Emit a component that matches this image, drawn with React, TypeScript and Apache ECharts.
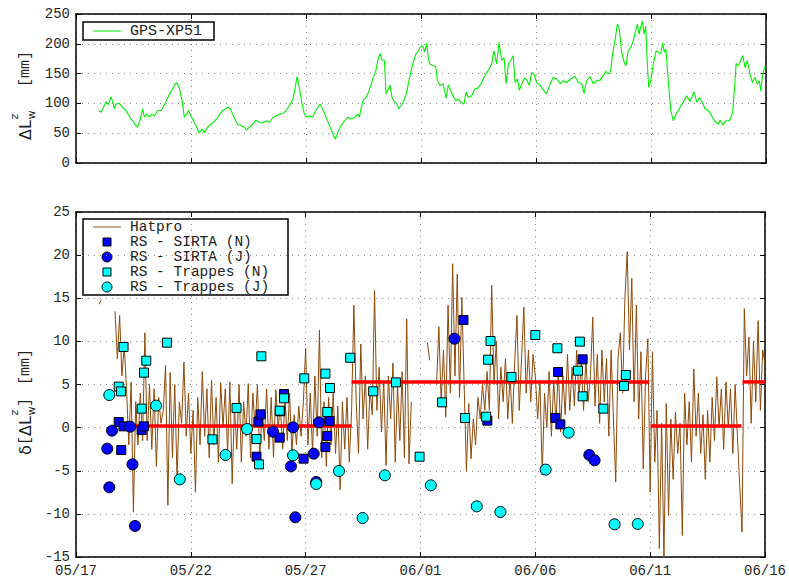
import React, { useEffect, useRef } from 'react';
import * as echarts from 'echarts';

// x positions are days since 05/17
const dateTicks = ['05/17', '05/22', '05/27', '06/01', '06/06', '06/11', '06/16'];

// GPS-XP51 (top panel)
const gpsDays = [
  0.99, 1.09, 1.23, 1.30, 1.41, 1.52, 1.62, 1.67, 1.74, 1.88, 2.03, 2.17, 2.32, 2.39, 2.49, 2.58, 2.68, 2.78, 2.90, 2.97,
  3.07, 3.19, 3.30, 3.41, 3.55, 3.70, 3.80, 3.91, 4.03, 4.16, 4.28, 4.38, 4.49, 4.61, 4.71, 4.81, 4.90, 5.00, 5.14, 5.25,
  5.36, 5.48, 5.58, 5.72, 5.87, 6.01, 6.16, 6.26, 6.38, 6.52, 6.62, 6.70, 6.81, 6.93, 7.03, 7.17, 7.32, 7.42, 7.54, 7.68,
  7.83, 7.97, 8.12, 8.26, 8.41, 8.55, 8.70, 8.84, 8.99, 9.13, 9.28, 9.42, 9.52, 9.61, 9.71, 9.83, 9.93, 10.03, 10.14, 10.29,
  10.43, 10.61, 10.75, 10.90, 11.04, 11.16, 11.28, 11.38, 11.52, 11.67, 11.81, 11.96, 12.10, 12.25, 12.32, 12.39, 12.49, 12.61, 12.72, 12.83,
  12.93, 13.04, 13.12, 13.22, 13.30, 13.41, 13.48, 13.58, 13.65, 13.74, 13.84, 13.94, 14.03, 14.13, 14.28, 14.38, 14.49, 14.64, 14.78, 14.90,
  14.96, 15.07, 15.17, 15.25, 15.32, 15.39, 15.54, 15.64, 15.71, 15.83, 15.97, 16.09, 16.19, 16.29, 16.41, 16.51, 16.62, 16.71, 16.87, 16.96,
  17.06, 17.20, 17.35, 17.49, 17.64, 17.74, 17.86, 17.97, 18.07, 18.17, 18.29, 18.39, 18.51, 18.61, 18.70, 18.80, 18.90, 19.01, 19.09, 19.19,
  19.28, 19.38, 19.52, 19.62, 19.71, 19.81, 19.91, 20.03, 20.17, 20.35, 20.46, 20.61, 20.75, 20.90, 21.04, 21.19, 21.33, 21.51, 21.70, 21.84,
  21.99, 22.09, 22.20, 22.35, 22.49, 22.64, 22.78, 22.93, 23.04, 23.14, 23.25, 23.33, 23.43, 23.54, 23.62, 23.72, 23.83, 23.91, 24.01, 24.12,
  24.23, 24.33, 24.41, 24.48, 24.55, 24.62, 24.70, 24.77, 24.84, 24.90, 24.99, 25.10, 25.22, 25.32, 25.42, 25.51, 25.58, 25.65, 25.75, 25.86,
  25.97, 26.09, 26.23, 26.41, 26.55, 26.70, 26.87, 26.99, 27.10, 27.25, 27.35, 27.49, 27.64, 27.78, 27.93, 28.00, 28.12, 28.26, 28.41, 28.55,
  28.65, 28.70, 28.80, 28.90, 28.99, 29.09, 29.19, 29.30, 29.41, 29.52, 29.62, 29.71, 29.77, 29.86, 29.96,
];
const gpsValues = [
  88, 85, 96, 103, 98, 111, 100, 91, 99, 100, 93, 88, 78, 74, 70, 64, 60, 71, 91, 77,
  82, 77, 82, 79, 88, 88, 94, 103, 113, 121, 131, 135, 126, 105, 77, 82, 88, 79, 68, 60,
  50, 57, 51, 60, 65, 70, 76, 82, 88, 91, 94, 91, 82, 72, 65, 63, 60, 55, 60, 65,
  72, 68, 67, 71, 68, 76, 79, 82, 83, 88, 96, 106, 124, 145, 127, 99, 82, 77, 79, 77,
  88, 99, 88, 74, 61, 50, 40, 51, 63, 70, 77, 74, 76, 82, 77, 91, 106, 110, 119, 132,
  144, 155, 172, 184, 173, 172, 116, 124, 131, 110, 103, 100, 91, 96, 107, 119, 141, 166, 183, 188,
  194, 197, 186, 201, 175, 166, 163, 162, 138, 130, 133, 109, 131, 121, 111, 105, 107, 103, 99, 119,
  110, 113, 124, 126, 135, 144, 152, 158, 166, 188, 166, 202, 172, 177, 133, 166, 172, 180, 135, 141,
  122, 133, 143, 138, 130, 152, 149, 135, 131, 121, 116, 132, 144, 141, 133, 138, 135, 141, 145, 135,
  133, 117, 138, 145, 133, 138, 139, 147, 154, 149, 155, 183, 205, 233, 225, 188, 169, 163, 188, 194,
  205, 222, 233, 216, 228, 238, 216, 230, 166, 127, 138, 166, 188, 186, 183, 201, 186, 191, 138, 88,
  71, 82, 91, 103, 113, 103, 119, 102, 110, 100, 91, 88, 79, 70, 65, 72, 64, 71, 71, 85,
  135, 167, 163, 172, 180, 160, 172, 150, 135, 144, 132, 138, 121, 149, 162,
];

// Hatpro (bottom panel), one value every 0.1 day from day 1.0; null = no data
const hatproStart = 1.0;
const hatproStep = 0.1;
const hatproValues: (number | null)[] = [
  14.3, 14.8, null, null, null, null, null, 13.5, 8.0, 13.0,
  6.0, 9.5, 4.5, -2.0, 5.3, -9.8, 3.0, -2.0, 4.0, -1.5,
  11.0, -1.5, 5.0, -2.5, 4.5, -4.5, 3.5, 0.5, 2.0, 7.2,
  -9.0, 6.4, -3.5, 5.0, -6.0, 3.0, 0.5, 7.6, -1.0, 4.0,
  -3.0, 2.0, -7.5, 3.5, -2.0, 6.5, -1.0, 4.5, -3.5, 5.5,
  -2.0, 3.5, -4.0, 5.2, 0.0, 4.5, -3.0, 5.3, -6.5, 2.5,
  -2.5, 5.0, -4.0, 3.0, -1.0, 5.1, -3.5, 4.0, 0.0, 5.0,
  -3.7, 2.0, -1.5, 4.5, -2.5, 3.5, -3.4, 4.4, 0.0, 2.5,
  -2.5, 3.5, -1.5, 4.0, -3.0, 1.5, -2.0, 2.5, -1.0, 3.0,
  9.2, -2.0, 4.0, -3.0, 6.0, -1.0, 11.3, -3.5, 3.0, -4.5,
  3.5, -2.0, 4.0, -3.0, 2.5, -7.2, 3.0, -2.5, 3.5, -4.0,
  2.0, 14.2, 3.0, -3.0, 9.7, 1.0, 6.0, -2.5, 4.5, 1.5,
  15.9, 2.0, 7.0, -0.5, 5.5, -4.4, 6.0, 1.0, 7.5, -4.0,
  5.0, -1.5, 6.5, -3.5, 12.6, -4.2, 3.0, null, null, null,
  null, null, null, 9.9, 7.8, null, null, 5.0, 11.7, 3.0,
  9.0, 1.2, 14.2, 4.0, 19.0, 6.0, 17.8, 3.5, 15.1, 5.0,
  -5.0, 2.8, -3.6, 1.0, -2.0, 3.5, 1.0, 5.0, 2.0, 6.5,
  2.0, 16.5, 5.0, 10.0, 1.0, 7.0, 3.0, 8.0, 1.0, 6.0,
  0.5, 7.5, 13.0, 2.0, 8.0, 14.0, 4.0, 9.0, 3.0, 8.5,
  6.0, 1.0, 5.5, -5.5, 4.0, 0.0, 6.5, -1.0, 5.5, 0.5,
  7.0, -0.5, 6.0, 1.5, 8.5, 2.0, 7.0, 2.5, 9.0, 3.5,
  7.5, 2.0, 8.0, 3.0, 6.0, 12.8, 2.5, 8.5, 0.5, 9.0,
  3.0, 8.0, -1.0, 9.0, 1.0, -6.3, 8.0, 11.0, 4.0, 15.0,
  20.4, 9.0, 17.3, 3.0, 14.2, 1.0, 8.8, -4.8, 6.0, 10.3,
  -7.5, 8.8, -4.0, 2.0, -14.0, 0.5, -15.2, 2.8, -10.2, 1.0,
  -6.0, 1.8, -3.0, 0.5, -12.5, 4.0, -2.0, 3.0, -4.0, 6.8,
  -1.0, 4.0, -3.0, 1.5, -6.0, 2.0, -4.0, 3.5, -1.5, 5.9,
  0.0, 4.5, -2.5, 5.3, 0.0, 4.5, -3.0, 5.0, -1.0, -6.7,
  -12.1, 13.8, 6.0, 10.5, 0.5, 10.0, 3.0, 12.4, 2.0, 9.0,
  7.5,
];

// Radiosonde points [day, value]
const sirtaN = [
  [1.86, 0.65], [1.97, -2.6], [2.07, 0.15], [2.86, -0.28], [2.96, 0.15], [7.94, 0.7], [7.86, -3.37],
  [8.04, 1.54], [8.87, -1.16], [8.9, 1.9], [9.06, 3.9], [9.91, -3.6], [10.86, -2.25], [10.94, -0.97],
  [11.04, 0.77], [16.87, 12.48], [17.91, 0.81], [20.87, 1.12], [20.99, 6.45], [21.09, 0.38], [22.06, 7.92],
];
const sirtaJ = [
  [1.36, -2.44], [1.45, -6.92], [1.57, -0.35], [2.36, 0.11], [2.46, -4.26], [2.57, -11.4], [8.58, -0.47],
  [9.36, -4.49], [9.45, 0.03], [9.55, -10.4], [10.35, -3.02], [10.46, -6.3], [10.58, 0.61], [16.48, 10.31],
  [22.35, -3.17], [22.58, -3.79],
];
const trappesN = [
  [1.86, 4.75], [1.96, 4.2], [2.07, 9.35], [2.86, 2.2], [2.96, 6.37], [3.06, 7.76], [3.96, 9.85],
  [5.94, -1.36], [6.99, 2.28], [7.86, -1.32], [7.97, -4.26], [8.07, 8.27], [8.87, 1.97], [9.06, 3.4],
  [9.94, 5.71], [10.86, 6.26], [10.94, 1.81], [11.06, 4.6], [11.94, 8.1], [12.94, 4.21], [13.93, 5.25],
  [14.96, -3.37], [15.94, 2.93], [16.94, 1.12], [17.86, 1.27], [17.94, 7.88], [18.05, 10.04], [18.96, 5.87],
  [20.0, 10.74], [20.96, 9.2], [21.86, 6.6], [21.94, 9.97], [22.06, 3.63], [22.96, 2.2], [23.86, 4.83],
  [23.94, 6.1],
];
const trappesJ = [
  [1.45, 3.78], [3.49, 2.55], [4.52, -6.0], [6.51, -3.17], [7.45, -0.16], [9.45, -3.21], [10.46, -6.54],
  [11.45, -5.03], [12.48, -10.48], [13.45, -5.53], [15.45, -6.69], [17.45, -9.13], [18.48, -9.78],
  [20.45, -4.87], [21.45, -0.58], [23.45, -11.21], [24.46, -11.17],
];

// Mean offset segments (red)
const biasStart = [2.49, 12.0, 25.02, 29.02];
const biasEnd = [12.0, 24.96, 28.97, 30.0];
const biasValue = [0.2, 5.3, 0.2, 5.3];

const BROWN = '#8c4a0a';
const GREEN = '#00ee00';
const BLUE = '#0000ff';
const CYAN = '#00ffff';
const MONO = '"Liberation Mono", monospace';
const SANS = '"DejaVu Sans", sans-serif';

function txt(text: string, x: number, y: number, font: string, extra: any = {}) {
  return {
    type: 'text',
    x,
    y,
    style: {
      text,
      font,
      fill: '#222',
      textAlign: 'left',
      align: 'left',
      textVerticalAlign: 'middle',
      verticalAlign: 'middle',
      ...extra,
    },
  };
}

function App() {
  const ref = useRef<HTMLDivElement>(null);
  useEffect(() => {
    document.body.style.margin = '0';
    if (!ref.current) return;
    const chart = echarts.init(ref.current, undefined, { renderer: 'svg' });

    const hatproData = hatproValues.map((v, i) => [
      +(hatproStart + i * hatproStep).toFixed(2),
      v === null ? '-' : v,
    ]);
    const gpsData = gpsDays.map((d, i) => [d, gpsValues[i]]);

    const splitLine = { show: true, lineStyle: { color: '#888', type: [1, 5], width: 1 } };
    const axisLine = { show: true, onZero: false, lineStyle: { color: '#000', width: 1.5 } };
    const tick = { show: true, inside: true, length: 5, lineStyle: { color: '#000', width: 1 } };
    const labelStyle = { color: '#262626', fontFamily: MONO, fontSize: 14 };

    const xBase = { type: 'value', min: 0, max: 30, interval: 5 };
    const xAxis = [
      { ...xBase, gridIndex: 0, position: 'bottom', axisLine, axisTick: tick, axisLabel: { show: false }, splitLine },
      { ...xBase, gridIndex: 0, position: 'top', axisLine, axisTick: tick, axisLabel: { show: false }, splitLine: { show: false } },
      {
        ...xBase, gridIndex: 1, position: 'bottom', axisLine, axisTick: tick, splitLine,
        axisLabel: { ...labelStyle, margin: 7, formatter: (v: number) => dateTicks[Math.round(v / 5)] },
      },
      { ...xBase, gridIndex: 1, position: 'top', axisLine, axisTick: tick, axisLabel: { show: false }, splitLine: { show: false } },
    ];
    const yTop = { type: 'value', min: 0, max: 250, interval: 50 };
    const yBot = { type: 'value', min: -15, max: 25, interval: 5 };
    const yAxis = [
      { ...yTop, gridIndex: 0, position: 'left', axisLine, axisTick: tick, splitLine, axisLabel: { ...labelStyle, margin: 6 } },
      { ...yTop, gridIndex: 0, position: 'right', axisLine, axisTick: tick, splitLine: { show: false }, axisLabel: { show: false } },
      { ...yBot, gridIndex: 1, position: 'left', axisLine, axisTick: tick, splitLine, axisLabel: { ...labelStyle, margin: 6 } },
      { ...yBot, gridIndex: 1, position: 'right', axisLine, axisTick: tick, splitLine: { show: false }, axisLabel: { show: false } },
    ];

    const biasSeries = biasStart.map((s, i) => ({
      type: 'line',
      xAxisIndex: 2,
      yAxisIndex: 2,
      data: [[s, biasValue[i]], [biasEnd[i], biasValue[i]]],
      showSymbol: false,
      symbol: 'none',
      lineStyle: { color: '#ff0000', width: 3.5 },
      z: 3,
      silent: true,
    }));

    const scatter = (name: string, data: number[][], symbol: string, size: number, color: string) => ({
      name,
      type: 'scatter',
      xAxisIndex: 2,
      yAxisIndex: 2,
      data,
      symbol,
      symbolSize: size,
      itemStyle: { color, borderColor: '#000', borderWidth: 1, opacity: 1 },
      z: 4,
    });

    // Y axis labels (rotated)
    const topLabel = {
      type: 'group',
      x: 25,
      y: 140,
      rotation: Math.PI / 2,
      children: [
        txt('ΔL', 0, 0, '16px ' + SANS),
        txt('z', 20.5, -11, '11px ' + SANS, { lineHeight: 11 }),
        txt('w', 20.5, 6, '11px ' + SANS, { lineHeight: 11 }),
        txt('[mm]', 53, 0, '15px ' + MONO),
      ],
    };
    const botLabel = {
      type: 'group',
      x: 25,
      y: 455,
      rotation: Math.PI / 2,
      children: [
        txt('δ', 0, 0, '16px ' + SANS),
        txt('[', 10, 0, '15px ' + MONO),
        txt('ΔL', 19, 0, '16px ' + SANS),
        txt('z', 39.5, -11, '11px ' + SANS, { lineHeight: 11 }),
        txt('w', 39.5, 6, '11px ' + SANS, { lineHeight: 11 }),
        txt(']', 48, 0, '15px ' + MONO),
        txt('[mm]', 70, 0, '15px ' + MONO),
      ],
    };

    const legendTop = {
      type: 'group',
      z: 100,
      children: [
        { type: 'rect', shape: { x: 83, y: 22, width: 131, height: 18 }, style: { fill: '#fff', stroke: '#000', lineWidth: 1.5 } },
        { type: 'line', shape: { x1: 93, y1: 31, x2: 121, y2: 31 }, style: { stroke: GREEN, lineWidth: 1 } },
        txt('GPS-XP51', 130, 31, '15px ' + MONO),
      ],
    };
    const rows = [227, 242, 257, 272, 287];
    const lg = { lineHeight: 14 };
    const LF = '14.5px ' + MONO;
    const legendBot = {
      type: 'group',
      z: 100,
      children: [
        { type: 'rect', shape: { x: 83, y: 219, width: 205, height: 76 }, style: { fill: '#fff', stroke: '#000', lineWidth: 1.5 } },
        { type: 'line', shape: { x1: 93, y1: rows[0], x2: 121, y2: rows[0] }, style: { stroke: '#a8703c', lineWidth: 1.2 } },
        { type: 'rect', shape: { x: 103, y: rows[1] - 4, width: 8, height: 8 }, style: { fill: BLUE, stroke: '#000', lineWidth: 1 } },
        { type: 'circle', shape: { cx: 107, cy: rows[2], r: 5 }, style: { fill: BLUE, stroke: '#000', lineWidth: 1 } },
        { type: 'rect', shape: { x: 103, y: rows[3] - 4, width: 8, height: 8 }, style: { fill: CYAN, stroke: '#000', lineWidth: 1 } },
        { type: 'circle', shape: { cx: 107, cy: rows[4], r: 5 }, style: { fill: CYAN, stroke: '#000', lineWidth: 1 } },
        txt('Hatpro', 130, rows[0], LF, lg),
        txt('RS - SIRTA (N)', 130, rows[1], LF, lg),
        txt('RS - SIRTA (J)', 130, rows[2], LF, lg),
        txt('RS - Trappes (N)', 130, rows[3], LF, lg),
        txt('RS - Trappes (J)', 130, rows[4], LF, lg),
      ],
    };

    chart.setOption({
      animation: false,
      backgroundColor: '#fff',
      grid: [
        { left: 76, top: 14, width: 690, height: 149 },
        { left: 76, top: 212, width: 690, height: 345 },
      ],
      xAxis,
      yAxis,
      series: [
        {
          name: 'GPS-XP51',
          type: 'line',
          xAxisIndex: 0,
          yAxisIndex: 0,
          data: gpsData,
          showSymbol: false,
          symbol: 'none',
          lineStyle: { color: GREEN, width: 1.1 },
          z: 2,
        },
        {
          name: 'Hatpro',
          type: 'line',
          xAxisIndex: 2,
          yAxisIndex: 2,
          data: hatproData,
          showSymbol: false,
          symbol: 'none',
          connectNulls: false,
          lineStyle: { color: BROWN, width: 1 },
          z: 2,
        },
        ...biasSeries,
        scatter('RS - SIRTA (N)', sirtaN, 'rect', 9, BLUE),
        scatter('RS - SIRTA (J)', sirtaJ, 'circle', 11, BLUE),
        scatter('RS - Trappes (N)', trappesN, 'rect', 9, CYAN),
        scatter('RS - Trappes (J)', trappesJ, 'circle', 11, CYAN),
      ],
      graphic: [topLabel, botLabel, legendTop, legendBot],
    });

    return () => chart.dispose();
  }, []);
  return <div ref={ref} style={{ width: 789, height: 579 }} />;
}

export default App;
